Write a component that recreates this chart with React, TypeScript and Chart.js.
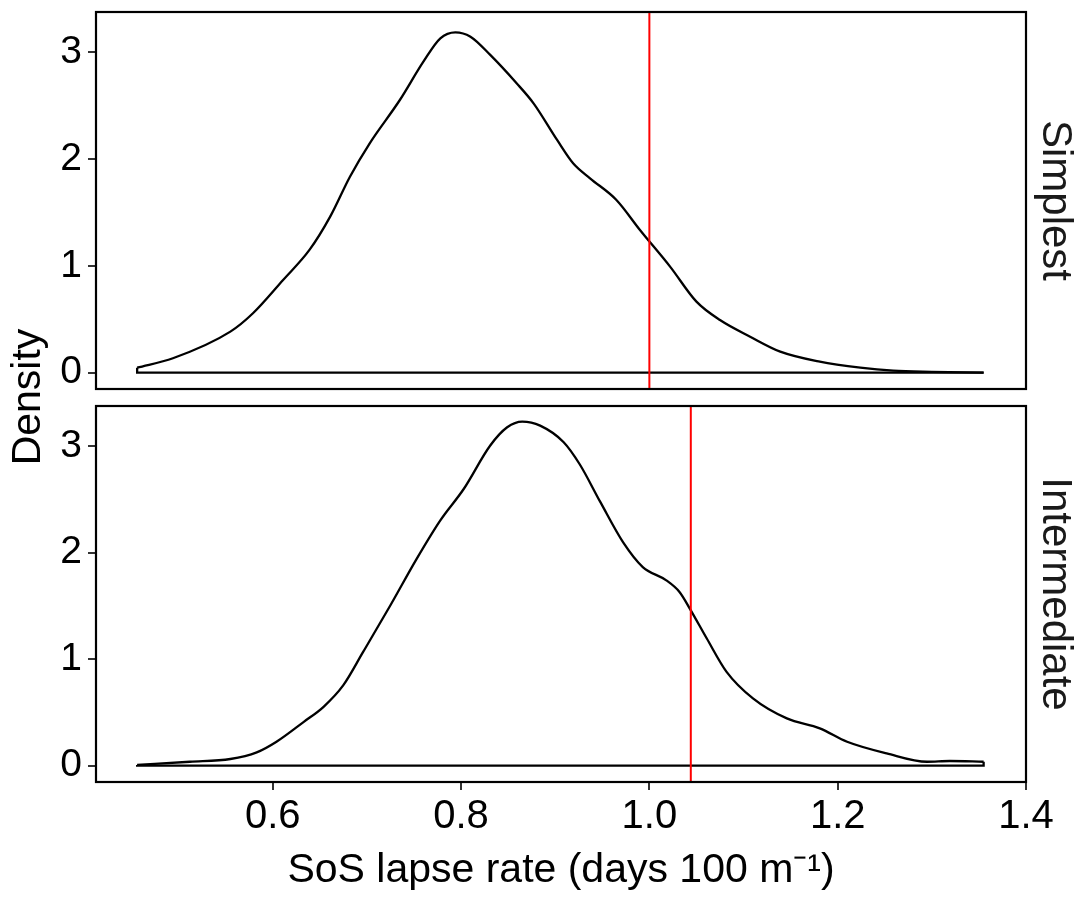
import React, { useEffect, useRef } from "react";
import { Chart, registerables } from "chart.js";

Chart.register(...registerables);

// ---------- data ----------
const panelNames = ["Simplest", "Intermediate"];
const xTicks = [0.6, 0.8, 1.0, 1.2, 1.4];
const yTicks = [0, 1, 2, 3];
const referenceLines = [1.0, 1.044];
const xLabel = "SoS lapse rate (days 100 m\u207B\u00B9)";
const yLabel = "Density";

const simplestX = [
  0.456, 0.494, 0.555, 0.579, 0.611, 0.639, 0.661, 0.682, 0.703, 0.735, 0.76,
  0.778, 0.794, 0.81, 0.831, 0.859, 0.877, 0.902, 0.919, 0.937, 0.965, 0.99,
  1.022, 1.05, 1.075, 1.107, 1.139, 1.181, 1.224, 1.259, 1.3, 1.355,
];
const simplestY = [
  0.047, 0.135, 0.384, 0.556, 0.868, 1.149, 1.461, 1.835, 2.148, 2.553, 2.912,
  3.131, 3.187, 3.146, 2.975, 2.71, 2.522, 2.179, 1.961, 1.82, 1.617, 1.336,
  0.993, 0.665, 0.493, 0.337, 0.197, 0.103, 0.047, 0.019, 0.008, 0.0,
];

const intermediateX = [
  0.456, 0.512, 0.555, 0.583, 0.604, 0.633, 0.654, 0.675, 0.696, 0.725, 0.753,
  0.778, 0.803, 0.831, 0.849, 0.865, 0.884, 0.909, 0.926, 0.948, 0.972, 0.993,
  1.018, 1.032, 1.044, 1.061, 1.082, 1.11, 1.146, 1.181, 1.21, 1.252, 1.295,
  1.319, 1.355,
];
const intermediateY = [
  0.007, 0.037, 0.063, 0.125, 0.225, 0.412, 0.553, 0.756, 1.068, 1.506, 1.944,
  2.303, 2.6, 3.006, 3.177, 3.231, 3.193, 3.037, 2.83, 2.474, 2.099, 1.865,
  1.74, 1.631, 1.459, 1.194, 0.881, 0.632, 0.444, 0.351, 0.225, 0.116, 0.037,
  0.044, 0.037,
];

// ---------- layout ----------
const W = 1078;
const H = 899;
const X_MIN = 0.4123;
const X_MAX = 1.4;
const Y_MIN = -0.153;
const Y_MAX = 3.377;
const FONT = '"Liberation Sans", Arial, Helvetica, sans-serif';

function makeDecorPlugin(refX: number, strip: string, drawYTitle: boolean) {
  return {
    id: "panelDecor",
    afterDatasetsDraw(chart: any) {
      const { ctx, chartArea: a, scales } = chart;
      const px = scales.x.getPixelForValue(refX);
      ctx.save();
      ctx.strokeStyle = "#ff0000";
      ctx.lineWidth = 2;
      ctx.beginPath();
      ctx.moveTo(px, a.top);
      ctx.lineTo(px, a.bottom);
      ctx.stroke();
      ctx.strokeStyle = "#000";
      ctx.lineWidth = 2.2;
      ctx.strokeRect(a.left, a.top, a.right - a.left, a.bottom - a.top);
      ctx.restore();

      ctx.save();
      ctx.translate(a.right + 29, (a.top + a.bottom) / 2);
      ctx.rotate(Math.PI / 2);
      ctx.font = `42px ${FONT}`;
      ctx.fillStyle = "#1a1a1a";
      ctx.textAlign = "center";
      ctx.textBaseline = "middle";
      ctx.fillText(strip, 0, 0);
      ctx.restore();

      if (drawYTitle) {
        ctx.save();
        ctx.translate(29, 397);
        ctx.rotate(-Math.PI / 2);
        ctx.font = `41px ${FONT}`;
        ctx.fillStyle = "#000";
        ctx.textAlign = "center";
        ctx.textBaseline = "middle";
        ctx.fillText(yLabel, 0, 0);
        ctx.restore();
      }
    },
  };
}

function buildChart(
  canvas: HTMLCanvasElement,
  xs: number[],
  ys: number[],
  refX: number,
  strip: string,
  isBottom: boolean
) {
  const curve = xs.map((x, i) => ({ x, y: ys[i] }));
  const first = curve[0];
  const last = curve[curve.length - 1];
  const closing = [
    { x: last.x, y: last.y },
    { x: last.x, y: 0 },
    { x: first.x, y: 0 },
    { x: first.x, y: first.y },
  ];

  const padding = isBottom
    ? { left: 0, top: 406, right: 52, bottom: 0 }
    : { left: 0, top: 12, right: 52, bottom: H - 389 };

  return new Chart(canvas, {
    type: "line",
    data: {
      datasets: [
        {
          data: curve,
          borderColor: "#000",
          borderWidth: 2.3,
          pointRadius: 0,
          cubicInterpolationMode: "monotone",
          fill: false,
          borderJoinStyle: "round",
        },
        {
          data: closing,
          borderColor: "#000",
          borderWidth: 2.3,
          pointRadius: 0,
          tension: 0,
          fill: false,
        },
      ],
    } as any,
    options: {
      animation: false,
      responsive: false,
      events: [],
      layout: { padding },
      plugins: {
        legend: { display: false },
        tooltip: { enabled: false },
      },
      scales: {
        x: {
          type: "linear",
          display: isBottom,
          min: X_MIN,
          max: X_MAX,
          afterBuildTicks: (s: any) => {
            s.ticks = xTicks.map((v) => ({ value: v }));
          },
          afterFit: (s: any) => {
            if (isBottom) s.height = H - 782;
            s.paddingLeft = 0;
            s.paddingRight = 0;
          },
          grid: {
            display: true,
            drawOnChartArea: false,
            drawTicks: true,
            tickLength: 8,
            lineWidth: 2,
            color: "#333",
          },
          border: { display: false },
          ticks: {
            padding: 3,
            color: "#000",
            font: { size: 40, family: FONT },
            callback: (v: any) => Number(v).toFixed(1),
            maxRotation: 0,
            autoSkip: false,
          },
          title: {
            display: true,
            text: xLabel,
            color: "#000",
            font: { size: 41, family: FONT, lineHeight: 1.2 },
            padding: { top: 0, bottom: 4 },
          },
        },
        y: {
          type: "linear",
          min: Y_MIN,
          max: Y_MAX,
          afterBuildTicks: (s: any) => {
            s.ticks = yTicks.map((v) => ({ value: v }));
          },
          afterFit: (s: any) => {
            s.width = 96;
            s.paddingTop = 0;
            s.paddingBottom = 0;
          },
          grid: {
            display: true,
            drawOnChartArea: false,
            drawTicks: true,
            tickLength: 8,
            lineWidth: 2,
            color: "#333",
          },
          border: { display: false },
          ticks: {
            padding: 6,
            color: "#000",
            font: { size: 39, family: FONT },
            callback: (v: any) => String(v),
          },
        },
      },
    } as any,
    plugins: [makeDecorPlugin(refX, strip, isBottom)],
  });
}

export default function App() {
  const topRef = useRef<HTMLCanvasElement | null>(null);
  const bottomRef = useRef<HTMLCanvasElement | null>(null);

  useEffect(() => {
    const charts: Chart[] = [];
    if (topRef.current) {
      charts.push(
        buildChart(topRef.current, simplestX, simplestY, referenceLines[0], panelNames[0], false)
      );
    }
    if (bottomRef.current) {
      charts.push(
        buildChart(
          bottomRef.current,
          intermediateX,
          intermediateY,
          referenceLines[1],
          panelNames[1],
          true
        )
      );
    }
    return () => charts.forEach((c) => c.destroy());
  }, []);

  const canvasStyle: React.CSSProperties = {
    position: "absolute",
    left: 0,
    top: 0,
    width: W,
    height: H,
  };

  return (
    <div
      style={{
        position: "absolute",
        left: 0,
        top: 0,
        width: W,
        height: H,
        background: "#fff",
      }}
    >
      <canvas ref={topRef} width={W} height={H} style={canvasStyle} />
      <canvas ref={bottomRef} width={W} height={H} style={canvasStyle} />
    </div>
  );
}
